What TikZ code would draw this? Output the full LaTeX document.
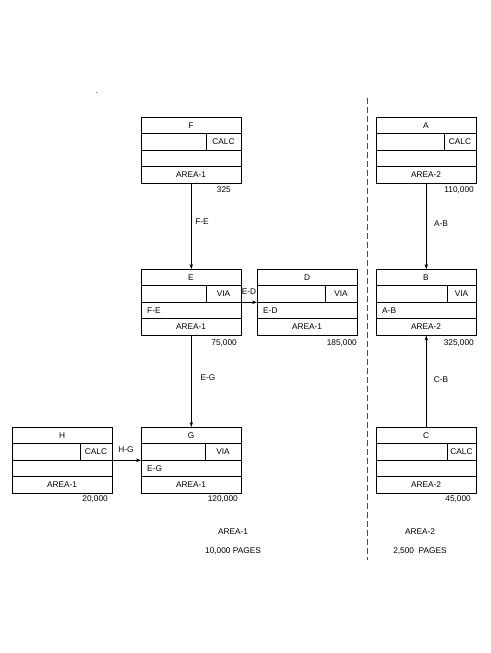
\documentclass[tikz,border=0pt]{standalone}
\usepackage{fontspec}
\setmainfont{Liberation Sans}
\usetikzlibrary{arrows.meta}
\tikzset{
 recbox/.style={draw, line width=0.6pt, minimum width=100pt, minimum height=66pt, inner sep=0pt, anchor=north west},
 rule/.style={line width=0.6pt},
 lbl/.style={font=\fontsize{8.3}{10}\selectfont, inner sep=0pt},
 num/.style={lbl, anchor=east},
 flow/.style={line width=0.6pt, -{Stealth[length=5pt,width=3.5pt]}},
 divider/.style={line width=0.6pt, draw=black!70, dash pattern=on 6pt off 3pt},
}
\newcommand\recbox[8]{% name, x, y, title, divx, celltext, row3text, area
\begin{scope}[shift={(#2,#3)}]
\node[recbox] (#1) at (0,0) {};
\draw[rule] (0,16.5) -- (100,16.5) (0,33) -- (100,33) (0,49.5) -- (100,49.5) (#5,16.5) -- (#5,33);
\node[lbl] (#1-t) at (50,8.25) {#4};
\node[lbl] (#1-c) at ({(#5+100)/2},24.75) {#6};
\node[lbl,anchor=west] (#1-r) at (6,41.25) {#7};
\node[lbl] (#1-a) at (50,57.75) {#8};
\end{scope}}
\begin{document}
\begin{tikzpicture}[x=1pt,y=-1pt]
\useasboundingbox (0,0) rectangle (490,653);
\node[lbl] (dot) at (97,93) {.};
% boxes
\recbox{F}{141}{117}{F}{65}{CALC}{}{AREA-1}
\recbox{E}{141}{269}{E}{65}{VIA}{F-E}{AREA-1}
\recbox{D}{257}{269}{D}{68}{VIA}{E-D}{AREA-1}
\recbox{G}{141}{427}{G}{64}{VIA}{E-G}{AREA-1}
\recbox{H}{12}{427}{H}{68}{CALC}{}{AREA-1}
\recbox{A}{376}{117}{A}{68}{CALC}{}{AREA-2}
\recbox{B}{376}{269}{B}{71}{VIA}{A-B}{AREA-2}
\recbox{C}{376}{427}{C}{71}{CALC}{}{AREA-2}
% numbers
\node[num] (F-n) at (231,190) {325};
\node[num] (E-n) at (237,343) {75,000};
\node[num] (D-n) at (357,343) {185,000};
\node[num] (G-n) at (238,499) {120,000};
\node[num] (H-n) at (108,499) {20,000};
\node[num] (A-n) at (474,190) {110,000};
\node[num] (B-n) at (474,343) {325,000};
\node[num] (C-n) at (471,499) {45,000};
% connectors
\draw[flow] (F) -- (E);
\draw[flow] (E) -- (D);
\draw[flow] (E) -- (G);
\draw[flow] (H) -- (G);
\draw[flow] (A) -- (B);
\draw[flow] (C) -- (B);
\node[lbl] (FE) at (202,222) {F-E};
\node[lbl] (ED) at (249,292) {E-D};
\node[lbl] (EG) at (208,378) {E-G};
\node[lbl] (HG) at (126,450) {H-G};
\node[lbl] (AB) at (441,224) {A-B};
\node[lbl] (CB) at (441,380) {C-B};
% area summaries
\node[lbl] (a1) at (233,532) {AREA-1};
\node[lbl] (p1) at (233,551) {10,000 PAGES};
\node[lbl] (a2) at (420,532) {AREA-2};
\node[lbl] (p2) at (420,551) {2,500~~PAGES};
% divider
\coordinate (dtop) at (367,98);
\coordinate (dbot) at (367,560);
\draw[divider] (dtop) -- (dbot);
\end{tikzpicture}
\end{document}
